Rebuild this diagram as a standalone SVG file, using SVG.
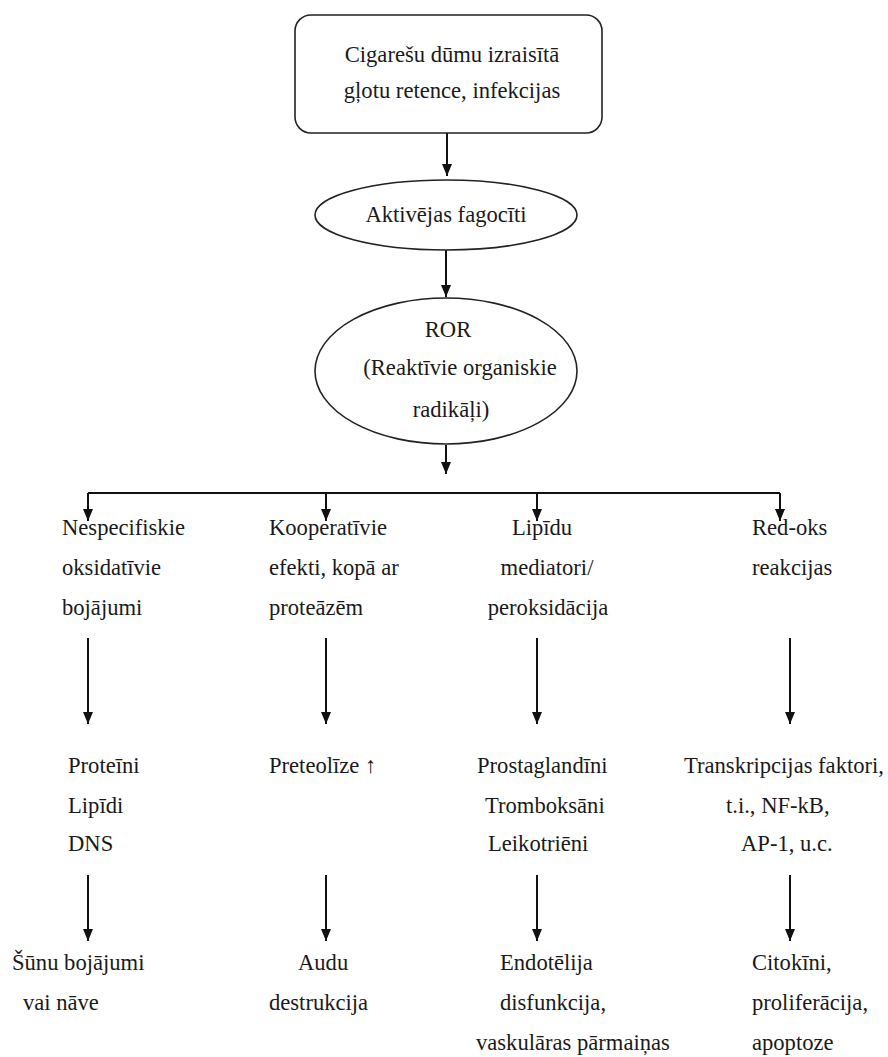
<svg xmlns="http://www.w3.org/2000/svg" width="888" height="1057" viewBox="0 0 888 1057">
<style>
text{font-family:'Liberation Serif','Times New Roman','DejaVu Serif',serif;font-size:22.6px;fill:#1a1a1a}
.c{text-anchor:middle}
.shape{fill:#fff;stroke:#222;stroke-width:1.6}
.con{stroke:#111;stroke-width:2;fill:none}
</style>
<defs>
<marker id="ah" viewBox="0 0 12 10" refX="12" refY="5" markerWidth="12" markerHeight="10" markerUnits="userSpaceOnUse" orient="auto">
<path d="M0,0 L12,5 L0,10 z" fill="#111"/>
</marker>
</defs>
<rect width="888" height="1057" fill="#fff"/>
<g id="connectors">
<line class="con" x1="447" y1="133" x2="447" y2="176" marker-end="url(#ah)"/>
<line class="con" x1="446" y1="250" x2="446" y2="297" marker-end="url(#ah)"/>
<line class="con" x1="446" y1="445" x2="446" y2="474" marker-end="url(#ah)"/>
<polyline class="con" points="88,493 780,493"/>
<line class="con" x1="88" y1="493" x2="88" y2="521" marker-end="url(#ah)"/>
<line class="con" x1="326" y1="493" x2="326" y2="521" marker-end="url(#ah)"/>
<line class="con" x1="537" y1="493" x2="537" y2="521" marker-end="url(#ah)"/>
<line class="con" x1="780" y1="493" x2="780" y2="521" marker-end="url(#ah)"/>
<line class="con" x1="88" y1="638" x2="88" y2="724" marker-end="url(#ah)"/>
<line class="con" x1="326" y1="638" x2="326" y2="724" marker-end="url(#ah)"/>
<line class="con" x1="537" y1="638" x2="537" y2="724" marker-end="url(#ah)"/>
<line class="con" x1="790" y1="638" x2="790" y2="724" marker-end="url(#ah)"/>
<line class="con" x1="88" y1="875" x2="88" y2="941" marker-end="url(#ah)"/>
<line class="con" x1="326" y1="875" x2="326" y2="941" marker-end="url(#ah)"/>
<line class="con" x1="537" y1="875" x2="537" y2="941" marker-end="url(#ah)"/>
<line class="con" x1="790" y1="875" x2="790" y2="941" marker-end="url(#ah)"/>
</g>
<g id="n_start">
<rect class="shape" x="295" y="15" width="307" height="118" rx="16"/>
<text class="c" x="452" y="62">Cigarešu dūmu izraisītā</text>
<text class="c" x="452" y="98">gļotu retence, infekcijas</text>
</g>
<g id="n_fagociti">
<ellipse class="shape" cx="446" cy="215" rx="131" ry="35"/>
<text class="c" x="446" y="222">Aktivējas fagocīti</text>
</g>
<g id="n_ror">
<ellipse class="shape" cx="446" cy="371" rx="131" ry="73"/>
<text class="c" x="448" y="337">ROR</text>
<text class="c" x="460" y="375">(Reaktīvie organiskie</text>
<text class="c" x="451" y="417">radikāļi)</text>
</g>
<g id="n_nespec">
<text x="62" y="535">Nespecifiskie</text>
<text x="62" y="575">oksidatīvie</text>
<text x="62" y="615">bojājumi</text>
</g>
<g id="n_koop">
<text x="269" y="535">Kooperatīvie</text>
<text x="269" y="575">efekti, kopā ar</text>
<text x="269" y="615">proteāzēm</text>
</g>
<g id="n_lipidu">
<text class="c" x="542" y="535">Lipīdu</text>
<text class="c" x="547" y="575">mediatori/</text>
<text class="c" x="548" y="615">peroksidācija</text>
</g>
<g id="n_redoks">
<text x="752" y="535">Red-oks</text>
<text x="752" y="575">reakcijas</text>
</g>
<g id="n_proteini">
<text x="68" y="773">Proteīni</text>
<text x="68" y="813">Lipīdi</text>
<text x="68" y="851">DNS</text>
</g>
<g id="n_preteolize">
<text x="269" y="773">Preteolīze ↑</text>
</g>
<g id="n_prosta">
<text x="477" y="773">Prostaglandīni</text>
<text x="485" y="813">Tromboksāni</text>
<text x="488" y="851">Leikotriēni</text>
</g>
<g id="n_transkr">
<text x="684" y="773">Transkripcijas faktori,</text>
<text x="726" y="813">t.i., NF-kB,</text>
<text x="741" y="851">AP-1, u.c.</text>
</g>
<g id="n_sunu">
<text x="12" y="970">Šūnu bojājumi</text>
<text x="23" y="1010">vai nāve</text>
</g>
<g id="n_audu">
<text x="298" y="970">Audu</text>
<text x="269" y="1010">destrukcija</text>
</g>
<g id="n_endot">
<text x="500" y="970">Endotēlija</text>
<text x="500" y="1010">disfunkcija,</text>
<text x="476" y="1050">vaskulāras pārmaiņas</text>
</g>
<g id="n_citok">
<text x="752" y="970">Citokīni,</text>
<text x="752" y="1010">proliferācija,</text>
<text x="752" y="1050">apoptoze</text>
</g>
</svg>
